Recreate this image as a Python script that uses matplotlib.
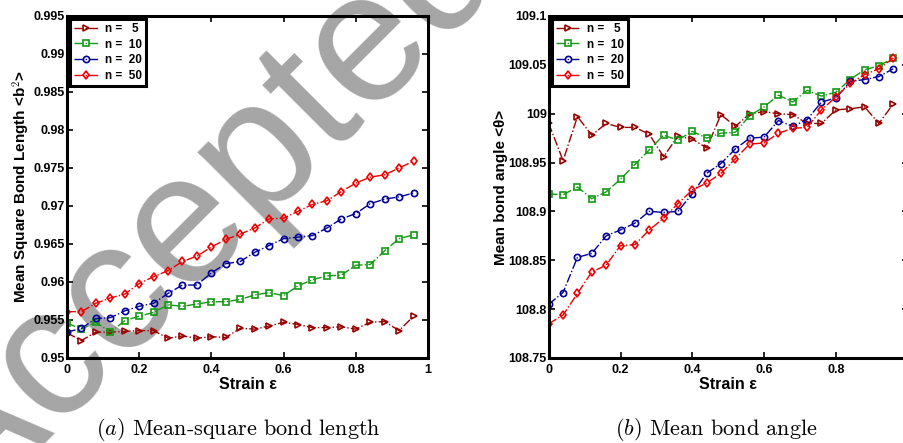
import numpy as np
import matplotlib
matplotlib.use("Agg")
import matplotlib.pyplot as plt

plt.rcParams['font.family'] = ['Liberation Sans', 'DejaVu Sans']
plt.rcParams['mathtext.fontset'] = 'cm'

# strain values (same for all curves)
strain = [0.00, 0.04, 0.08, 0.12, 0.16, 0.20, 0.24, 0.28, 0.32, 0.36, 0.40, 0.44,
          0.48, 0.52, 0.56, 0.60, 0.64, 0.68, 0.72, 0.76, 0.80, 0.84, 0.88, 0.92, 0.96]

labels = ["n =   5", "n =  10", "n =  20", "n =  50"]

# (a) mean square bond length <b^2>
b2_n5 = [0.9533, 0.9523, 0.9534, 0.9534, 0.9535, 0.9536, 0.9536, 0.9526, 0.9529, 0.9526,
         0.9528, 0.9527, 0.9539, 0.9538, 0.9542, 0.9547, 0.9544, 0.9540, 0.9540, 0.9541,
         0.9538, 0.9547, 0.9548, 0.9536, 0.9555]
b2_n10 = [0.9546, 0.9538, 0.9547, 0.9534, 0.9549, 0.9555, 0.9560, 0.9570, 0.9568, 0.9571,
          0.9574, 0.9574, 0.9577, 0.9583, 0.9586, 0.9582, 0.9595, 0.9603, 0.9608, 0.9609,
          0.9622, 0.9623, 0.9641, 0.9657, 0.9662]
b2_n20 = [0.9534, 0.9539, 0.9552, 0.9553, 0.9562, 0.9568, 0.9572, 0.9585, 0.9596, 0.9596,
          0.9612, 0.9624, 0.9627, 0.9639, 0.9648, 0.9657, 0.9659, 0.9661, 0.9671, 0.9683,
          0.9690, 0.9703, 0.9709, 0.9712, 0.9717]
b2_n50 = [0.9561, 0.9561, 0.9572, 0.9579, 0.9584, 0.9598, 0.9607, 0.9615, 0.9627, 0.9634,
          0.9646, 0.9656, 0.9663, 0.9671, 0.9683, 0.9684, 0.9693, 0.9702, 0.9707, 0.9719,
          0.9730, 0.9738, 0.9741, 0.9750, 0.9759]

# (b) mean bond angle <theta>
th_n5 = [108.990, 108.952, 108.997, 108.978, 108.990, 108.986, 108.986, 108.979, 108.956,
         108.977, 108.974, 108.965, 108.999, 108.987, 109.000, 109.002, 109.000, 108.999,
         108.990, 108.990, 109.004, 109.005, 109.007, 108.990, 109.010]
th_n10 = [108.918, 108.917, 108.925, 108.913, 108.920, 108.933, 108.948, 108.963, 108.978,
          108.973, 108.982, 108.975, 108.980, 108.981, 108.998, 109.007, 109.019, 109.012,
          109.024, 109.018, 109.022, 109.035, 109.045, 109.049, 109.057]
th_n20 = [108.805, 108.817, 108.853, 108.857, 108.875, 108.881, 108.888, 108.900, 108.899,
          108.900, 108.918, 108.939, 108.949, 108.964, 108.975, 108.976, 108.993, 108.987,
          108.994, 109.012, 109.016, 109.033, 109.035, 109.038, 109.046]
th_n50 = [108.785, 108.794, 108.816, 108.838, 108.845, 108.865, 108.866, 108.881, 108.893,
          108.908, 108.922, 108.929, 108.939, 108.954, 108.969, 108.970, 108.980, 108.985,
          108.986, 109.004, 109.017, 109.031, 109.040, 109.046, 109.057]

colors = ['#990000', '#139913', '#000099', '#ee0000']
markers = ['>', 's', 'o', 'd']

xticks = [0, 0.2, 0.4, 0.6, 0.8, 1]
xtick_labels = ['0', '0.2', '0.4', '0.6', '0.8', '1']
b2_ticks = [0.95, 0.955, 0.96, 0.965, 0.97, 0.975, 0.98, 0.985, 0.99, 0.995]
b2_tick_labels = ['0.95', '0.955', '0.96', '0.965', '0.97', '0.975', '0.98', '0.985', '0.99', '0.995']
th_ticks = [108.75, 108.8, 108.85, 108.9, 108.95, 109.0, 109.05, 109.1]
th_tick_labels = ['108.75', '108.8', '108.85', '108.9', '108.95', '109', '109.05', '109.1']

fig = plt.figure(figsize=(9.04, 4.43), dpi=100)

# watermark behind everything
fig.text(0.229, 0.519, "Accepted", fontsize=133, color='#a5a5a5', rotation=45,
         ha='center', va='center', rotation_mode='anchor', zorder=-1)

ax1 = fig.add_axes([0.0741, 0.1919, 0.3993, 0.772])
ax2 = fig.add_axes([0.607, 0.1919, 0.397, 0.772])


def style_axes(ax, yticks, ylabels, ylim):
    ax.set_facecolor('none')
    ax.set_xlim(0, 1)
    ax.set_ylim(*ylim)
    ax.set_xticks(xticks)
    ax.set_xticklabels(xtick_labels, fontweight='bold', fontsize=9)
    ax.set_yticks(yticks)
    ax.set_yticklabels(ylabels, fontweight='bold', fontsize=9)
    ax.tick_params(direction='in', top=True, right=True, length=4, width=1.2)
    ax.tick_params(axis='x', pad=4)
    ax.tick_params(axis='y', pad=1.5)
    for s in ax.spines.values():
        s.set_linewidth(2.2)
    ax.set_xlabel("Strain ε", fontweight='bold', fontsize=11.5, labelpad=1)


for ys, c, m, lab in zip([b2_n5, b2_n10, b2_n20, b2_n50], colors, markers, labels):
    ax1.plot(strain, ys, linestyle='-.', color=c, marker=m, markersize=4.5,
             markerfacecolor='none', markeredgewidth=1.2, linewidth=1, label=lab)
style_axes(ax1, b2_ticks, b2_tick_labels, (0.95, 0.995))
ax1.set_ylabel("Mean Square Bond Length <b$^2$>", fontweight='bold', fontsize=11, labelpad=1)

for ys, c, m, lab in zip([th_n5, th_n10, th_n20, th_n50], colors, markers, labels):
    ax2.plot(strain, ys, linestyle='-.', color=c, marker=m, markersize=4.5,
             markerfacecolor='none', markeredgewidth=1.2, linewidth=1, label=lab)
style_axes(ax2, th_ticks, th_tick_labels, (108.75, 109.1))
ax2.set_ylabel("Mean bond angle <θ>", fontweight='bold', fontsize=11, labelpad=0)

for ax in (ax1, ax2):
    leg = ax.legend(loc='upper left', prop={'weight': 'bold', 'size': 8.5}, frameon=True,
                    fancybox=False, edgecolor='black', handlelength=2.0, handletextpad=0.6,
                    borderpad=0.35, labelspacing=0.3, borderaxespad=0.25, framealpha=1)
    leg.get_frame().set_linewidth(2.2)

fig.text(0.264, 0.018, r"$(a)$ Mean-square bond length", family='cmr10', fontsize=16,
         ha='center', va='baseline')
fig.text(0.793, 0.018, r"$(b)$ Mean bond angle", family='cmr10', fontsize=16,
         ha='center', va='baseline')

fig.savefig("out.png", dpi=100)
